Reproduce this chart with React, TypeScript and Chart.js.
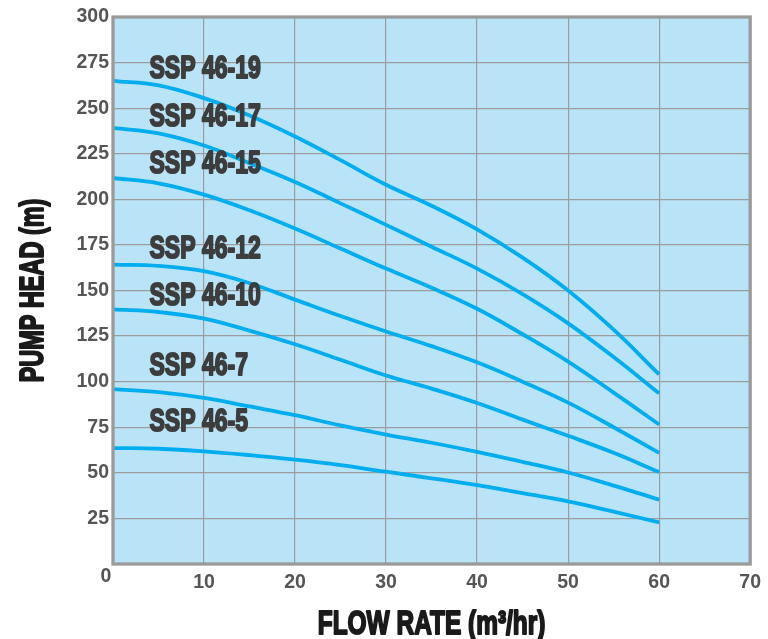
import React, { useEffect, useRef } from "react";
import { Chart, registerables } from "chart.js";

Chart.register(...registerables);

// ---- data ----
const flowRates = [0, 5, 10, 15, 20, 25, 30, 35, 40, 45, 50, 55, 60];
const ssp46_19 = [265, 262.5, 255.5, 246, 234.5, 221.5, 208, 196.5, 183.5, 168, 150, 128.5, 104];
const ssp46_17 = [239.2, 236.2, 229.5, 219.8, 209.5, 197.8, 186, 174, 162, 148, 132, 113.5, 93.6];
const ssp46_15 = [211.7, 208.8, 202.6, 194, 184, 173, 162, 151.5, 140, 126, 111, 94, 76.5];
const ssp46_12 = [164.2, 163.5, 160.6, 154, 145, 136, 127.5, 119.5, 110.6, 100, 88.5, 75, 60.9];
const ssp46_10 = [139.6, 138.2, 134.6, 128, 120.5, 112, 103.4, 96.2, 88.3, 79.2, 70.3, 61, 50.4];
const ssp46_7 = [95.9, 94.3, 91.1, 86.4, 81.6, 76, 71, 66.5, 61.5, 56, 50.2, 43, 35.3];
const ssp46_5 = [63.6, 63.2, 61.8, 59.7, 57.2, 54.2, 50.6, 47, 43.2, 38.9, 34.3, 28.7, 22.8];

const modelNames = ["SSP 46-19", "SSP 46-17", "SSP 46-15", "SSP 46-12", "SSP 46-10", "SSP 46-7", "SSP 46-5"];
const modelSeries = [ssp46_19, ssp46_17, ssp46_15, ssp46_12, ssp46_10, ssp46_7, ssp46_5];
// label anchor (flow, head) in data units
const labelFlow = 4;
const labelHeads = [272.7, 246.3, 220.5, 174, 148.4, 110, 79];

const xTickValues = [0, 10, 20, 30, 40, 50, 60, 70];
const yTickValues = [0, 25, 50, 75, 100, 125, 150, 175, 200, 225, 250, 275, 300];

const xTitle = "FLOW RATE (m³/hr)";
const yTitle = "PUMP HEAD (m)";

// ---- styles ----
const LINE_COLOR = "#00aeef";
const BG_COLOR = "#b9e4f8";
const GRID_COLOR = "#9c9c9c";
const TICK_COLOR = "#555555";
const FONT_FAMILY = '"Liberation Sans", Arial, sans-serif';

function condensedText(
  ctx: CanvasRenderingContext2D,
  text: string,
  x: number,
  y: number,
  size: number,
  color: string,
  sx: number,
  align: CanvasTextAlign,
  rotate = 0
) {
  ctx.save();
  ctx.translate(x, y);
  if (rotate) ctx.rotate(rotate);
  ctx.scale(sx, 1);
  ctx.font = `bold ${size}px ${FONT_FAMILY}`;
  ctx.fillStyle = color;
  ctx.strokeStyle = color;
  ctx.lineWidth = 2;
  ctx.lineJoin = "round";
  ctx.textAlign = align;
  ctx.textBaseline = "alphabetic";
  ctx.fillText(text, 0, 0);
  ctx.strokeText(text, 0, 0);
  ctx.restore();
}

const decorPlugin = {
  id: "decor",
  beforeDraw(chart: any) {
    const { ctx, chartArea } = chart;
    ctx.save();
    ctx.fillStyle = BG_COLOR;
    ctx.fillRect(chartArea.left, chartArea.top, chartArea.right - chartArea.left, chartArea.bottom - chartArea.top);
    ctx.restore();
  },
  afterDraw(chart: any) {
    const { ctx, chartArea, scales } = chart;
    // frame
    ctx.save();
    ctx.strokeStyle = "#9a9a9a";
    ctx.lineWidth = 3.3;
    ctx.strokeRect(chartArea.left, chartArea.top, chartArea.right - chartArea.left, chartArea.bottom - chartArea.top);
    ctx.restore();

    // model labels
    modelNames.forEach((name, i) => {
      const px = scales.x.getPixelForValue(labelFlow);
      const py = scales.y.getPixelForValue(labelHeads[i]);
      condensedText(ctx, name, px, py + 11.5, 32, "#3d3d3d", 0.72, "left");
    });

    // origin label
    ctx.save();
    ctx.font = `bold 19.5px ${FONT_FAMILY}`;
    ctx.fillStyle = TICK_COLOR;
    ctx.textAlign = "center";
    ctx.textBaseline = "middle";
    ctx.fillText(String(xTickValues[0]), chartArea.left - 7, chartArea.bottom + 13);
    ctx.restore();

    // axis titles
    const cx = (chartArea.left + chartArea.right) / 2;
    condensedText(ctx, xTitle, cx, chartArea.bottom + 70, 33.5, "#1a1a1a", 0.73, "center");
    const cy = (chartArea.top + chartArea.bottom) / 2;
    condensedText(ctx, yTitle, 43, cy, 33.5, "#1a1a1a", 0.7, "center", -Math.PI / 2);
  },
};

export default function App() {
  const canvasRef = useRef<HTMLCanvasElement | null>(null);

  useEffect(() => {
    if (!canvasRef.current) return;
    const tickFont = { family: FONT_FAMILY, size: 19.5, weight: "bold" as const };
    const chart = new Chart(canvasRef.current, {
      type: "line",
      data: {
        datasets: modelSeries.map((series, i) => ({
          label: modelNames[i],
          data: flowRates.map((x, j) => ({ x, y: series[j] })),
          borderColor: LINE_COLOR,
          backgroundColor: LINE_COLOR,
          borderWidth: 3.8,
          pointRadius: 0,
          fill: false,
          tension: 0.4,
          borderCapStyle: "butt" as const,
        })),
      },
      options: {
        responsive: false,
        animation: false,
        layout: { padding: { top: 17, right: 16, left: 0, bottom: 0 } },
        plugins: {
          legend: { display: false },
          tooltip: { enabled: false },
        },
        scales: {
          x: {
            type: "linear",
            min: 0,
            max: 70,
            afterBuildTicks: (s: any) => {
              s.ticks = xTickValues.map((v) => ({ value: v }));
            },
            afterFit: (s: any) => {
              s.height = 75;
            },
            ticks: {
              autoSkip: false,
              maxRotation: 0,
              padding: 7,
              color: TICK_COLOR,
              font: tickFont,
              callback: (v: any) => (v === 0 ? "" : String(v)),
            },
            grid: { color: GRID_COLOR, lineWidth: 1.2, drawTicks: false },
            border: { display: false },
          },
          y: {
            type: "linear",
            min: 0,
            max: 300,
            afterBuildTicks: (s: any) => {
              s.ticks = yTickValues.map((v) => ({ value: v }));
            },
            afterFit: (s: any) => {
              s.width = 113;
            },
            ticks: {
              autoSkip: false,
              padding: 4,
              color: TICK_COLOR,
              font: tickFont,
              callback: (v: any) => (v === 0 ? "" : String(v)),
            },
            grid: { color: GRID_COLOR, lineWidth: 1.2, drawTicks: false },
            border: { display: false },
          },
        },
      },
      plugins: [decorPlugin],
    });
    return () => chart.destroy();
  }, []);

  return (
    <div style={{ position: "fixed", left: 0, top: 0, width: 768, height: 639, background: "#ffffff" }}>
      <canvas ref={canvasRef} width={768} height={639} style={{ display: "block" }} />
    </div>
  );
}
